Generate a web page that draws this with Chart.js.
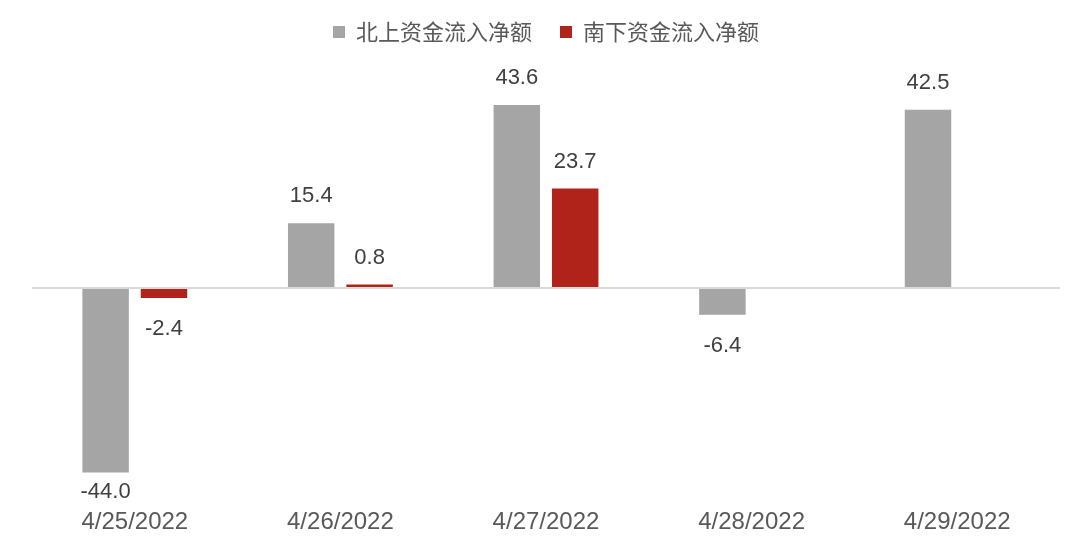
<!DOCTYPE html>
<html>
<head>
<meta charset="utf-8">
<script src="https://cdn.jsdelivr.net/npm/chart.js@4"></script>
<style>
  html, body { margin: 0; padding: 0; background: #fff; }
  #wrap { width: 1080px; height: 549px; }
</style>
</head>
<body>
<div id="wrap"><canvas id="chart"></canvas></div>
<script>
const categories = ['4/25/2022', '4/26/2022', '4/27/2022', '4/28/2022', '4/29/2022'];
const northbound = [-44.0, 15.4, 43.6, -6.4, 42.5];
const southbound = [-2.4, 0.8, 23.7, null, null];
const seriesNames = ['北上资金流入净额', '南下资金流入净额'];

const CJK = '"Noto Sans CJK SC", sans-serif';
const NUM = '"Liberation Sans", Arial, sans-serif';

// value labels above positive bars, below negative ones (kept inside the plot area)
const valueLabels = {
    id: 'valueLabels',
    afterDatasetsDraw(chart) {
        const ctx = chart.ctx;
        const area = chart.chartArea;
        ctx.save();
        ctx.font = '22px ' + NUM;
        ctx.fillStyle = '#404040';
        ctx.textAlign = 'center';
        ctx.textBaseline = 'alphabetic';
        chart.data.datasets.forEach((ds, i) => {
            chart.getDatasetMeta(i).data.forEach((bar, j) => {
                const v = ds.data[j];
                if (v === null || v === undefined) return;
                if (v >= 0) {
                    ctx.fillText(v.toFixed(1), bar.x, bar.y - 21);
                } else {
                    ctx.fillText(v.toFixed(1), bar.x, Math.min(bar.y + 37, area.bottom));
                }
            });
        });
        ctx.restore();
    }
};

const ctx = document.getElementById('chart').getContext('2d');
_ = new Chart(ctx, {
    type: 'bar',
    data: {
        labels: categories,
        datasets: [{
            label: seriesNames[0],
            data: northbound,
            backgroundColor: '#A5A5A5'
        }, {
            label: seriesNames[1],
            data: southbound,
            backgroundColor: '#B0231B'
        }]
    },
    options: {
        responsive: true,
        maintainAspectRatio: false,
        animation: false,
        categoryPercentage: 0.568,
        barPercentage: 0.796,
        layout: { padding: { left: 32, right: 20, top: -7, bottom: 2 } },
        plugins: {
            legend: {
                position: 'top',
                labels: {
                    font: { family: CJK, size: 22 },
                    color: '#595959',
                    usePointStyle: true,
                    pointStyle: 'rect',
                    boxWidth: 12,
                    boxHeight: 12,
                    padding: 28
                }
            },
            tooltip: { enabled: false }
        },
        scales: {
            x: {
                grid: { display: false, drawTicks: false },
                border: { display: false },
                ticks: {
                    font: { family: NUM, size: 24 },
                    color: '#595959',
                    padding: 10
                }
            },
            y: {
                min: -50.1,
                max: 56.0,
                ticks: { display: false, stepSize: 10 },
                border: { display: false },
                grid: {
                    drawTicks: false,
                    lineWidth: 2,
                    color: c => c.tick.value === 0 ? '#D9D9D9' : 'transparent'
                }
            }
        }
    },
    plugins: [valueLabels]
});
</script>
</body>
</html>
